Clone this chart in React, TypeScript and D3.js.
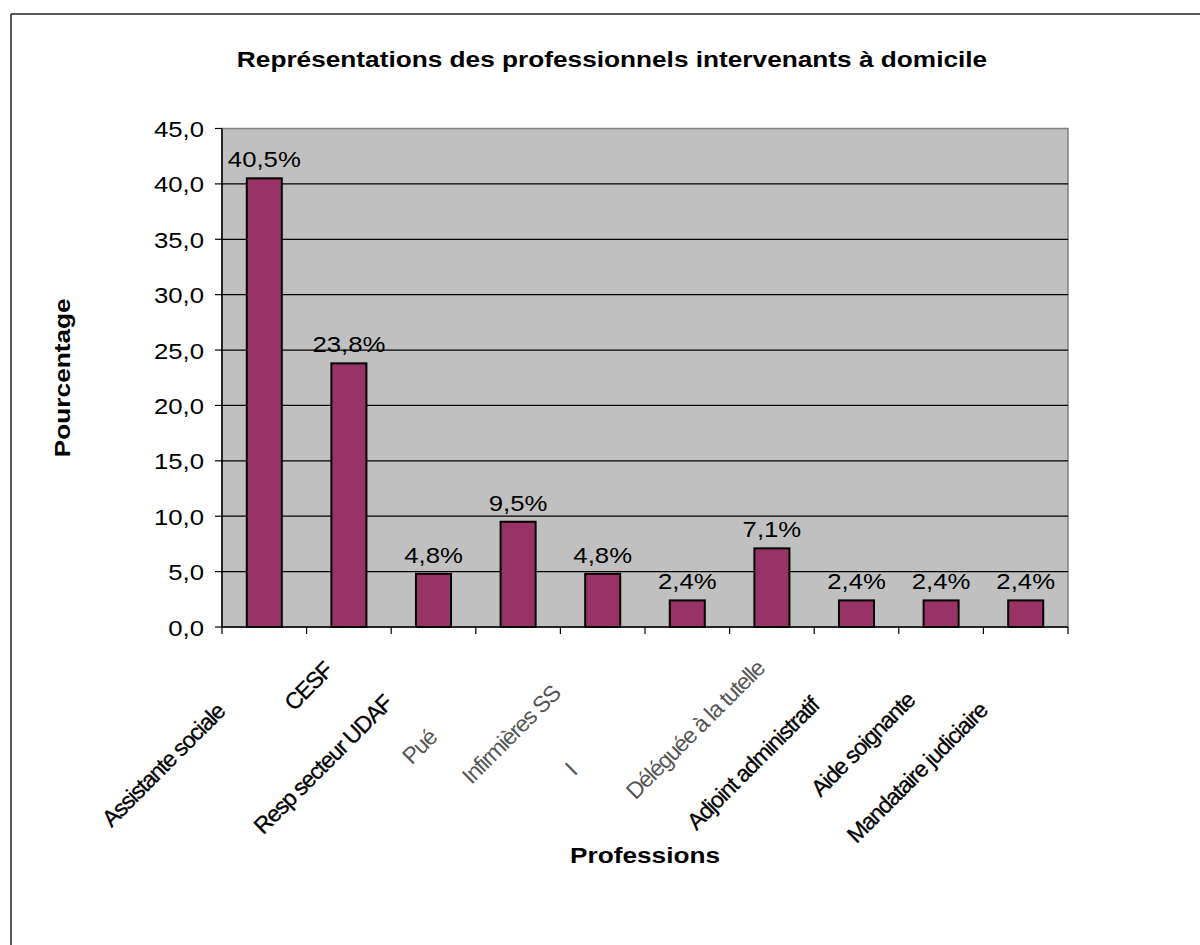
import React from 'react';
import { scaleBand, scaleLinear, range } from 'd3';

// chart values
const professions = [
  'Assistante sociale',
  'CESF',
  'Resp secteur UDAF',
  'Pué',
  'Infirmières SS',
  'I',
  'Déléguée à la tutelle',
  'Adjoint administratif',
  'Aide soignante',
  'Mandataire judiciaire',
];
const percents = [40.5, 23.8, 4.8, 9.5, 4.8, 2.4, 7.1, 2.4, 2.4, 2.4];
const yTicks = range(0, 46, 5);
// these labels come out half erased in the original
const faded = [false, false, false, true, true, true, true, false, false, false];

// where each rotated label ends, relative to its category centre / the axis
const labelNudge: [number, number][] = [
  [-38, 86], [-15, 45], [-40, 78], [-80, 112], [-41, 68],
  [-109, 146], [-6, 43], [-36, 80], [-25, 75], [-37, 85],
];

const W = 1200;
const H = 945;
const font = "Arial, 'Liberation Sans', sans-serif";
const stretch = 1.22; // horizontal text is wide in the source
const numStretch = 1.12;

const plot = { left: 222, right: 1068, top: 128.5, bottom: 627 };

const fmt = (v: number) => v.toFixed(1).replace('.', ',');

export default function App() {
  const x = scaleBand<string>()
    .domain(professions)
    .range([plot.left, plot.right])
    .paddingInner(0.586)
    .paddingOuter(0.293);
  const step = x.step();
  const y = scaleLinear().domain([0, 45]).range([plot.bottom, plot.top]);

  const hText = (key: string, px: number, py: number, txt: string, size: number, k: number, bold = false, anchor = 'middle') => (
    <text
      key={key}
      transform={`translate(${px},${py}) scale(${k},1)`}
      textAnchor={anchor}
      fontFamily={font}
      fontSize={size}
      fontWeight={bold ? 'bold' : 'normal'}
      fill="#000"
    >
      {txt}
    </text>
  );

  return (
    <svg width={W} height={H} style={{ position: 'absolute', left: 0, top: 0, background: '#fff' }}>
      {/* chart frame, only left and top edges fall inside the picture */}
      <line x1={11} y1={14} x2={W} y2={14} stroke="#222" strokeWidth={1.5} />
      <line x1={11} y1={14} x2={11} y2={H} stroke="#222" strokeWidth={1.5} />

      {hText('title', 612, 67, 'Représentations des professionnels intervenants à domicile', 21.5, stretch, true)}

      {/* plot area */}
      <rect x={plot.left} y={plot.top} width={plot.right - plot.left} height={plot.bottom - plot.top} fill="#C0C0C0" stroke="#808080" strokeWidth={1.5} />

      {yTicks.filter(t => t > 0 && t < 45).map(t => (
        <line key={'g' + t} x1={plot.left} x2={plot.right} y1={y(t)} y2={y(t)} stroke="#000" strokeWidth={1.2} />
      ))}

      {/* bars */}
      {professions.map((p, i) => (
        <rect
          key={'b' + i}
          x={x(p)}
          y={y(percents[i])}
          width={x.bandwidth()}
          height={y(0) - y(percents[i])}
          fill="#993366"
          stroke="#000"
          strokeWidth={2}
        />
      ))}

      {/* y axis */}
      <line x1={plot.left} x2={plot.left} y1={plot.top} y2={plot.bottom} stroke="#000" strokeWidth={1.5} />
      {yTicks.map(t => (
        <g key={'yt' + t}>
          <line x1={plot.left - 7} x2={plot.left} y1={y(t)} y2={y(t)} stroke="#000" strokeWidth={1.2} />
          {hText('yl' + t, plot.left - 18, y(t) + 8.5, fmt(t), 23, numStretch, false, 'end')}
        </g>
      ))}

      {/* x axis */}
      <line x1={plot.left} x2={plot.right} y1={plot.bottom} y2={plot.bottom} stroke="#000" strokeWidth={1.5} />
      {range(professions.length + 1).map(k => (
        <line key={'xt' + k} x1={plot.left + k * step} x2={plot.left + k * step} y1={plot.bottom} y2={plot.bottom + 7} stroke="#000" strokeWidth={1.2} />
      ))}

      {/* value labels */}
      {professions.map((p, i) =>
        hText('v' + i, (x(p) as number) + x.bandwidth() / 2, y(percents[i]) - 11, fmt(percents[i]) + '%', 23, numStretch)
      )}

      {/* rotated category labels */}
      {professions.map((p, i) => {
        const cx = (x(p) as number) + x.bandwidth() / 2 + labelNudge[i][0];
        const cy = plot.bottom + labelNudge[i][1];
        return (
          <text
            key={'xl' + i}
            transform={`translate(${cx},${cy}) rotate(-45)`}
            textAnchor="end"
            fontFamily={font}
            fontSize={23}
            letterSpacing={-1.2}
            fill={faded[i] ? '#555' : '#000'}
            stroke={faded[i] ? 'none' : '#000'}
            strokeWidth={0.3}
          >
            {p}
          </text>
        );
      })}

      {/* axis titles */}
      {hText('xtitle', 645, 863, 'Professions', 21.5, stretch, true)}
      <text
        transform={`translate(70,${(plot.top + plot.bottom) / 2}) rotate(-90) scale(${stretch},1)`}
        textAnchor="middle"
        fontFamily={font}
        fontSize={21.5}
        fontWeight="bold"
      >
        Pourcentage
      </text>
    </svg>
  );
}
